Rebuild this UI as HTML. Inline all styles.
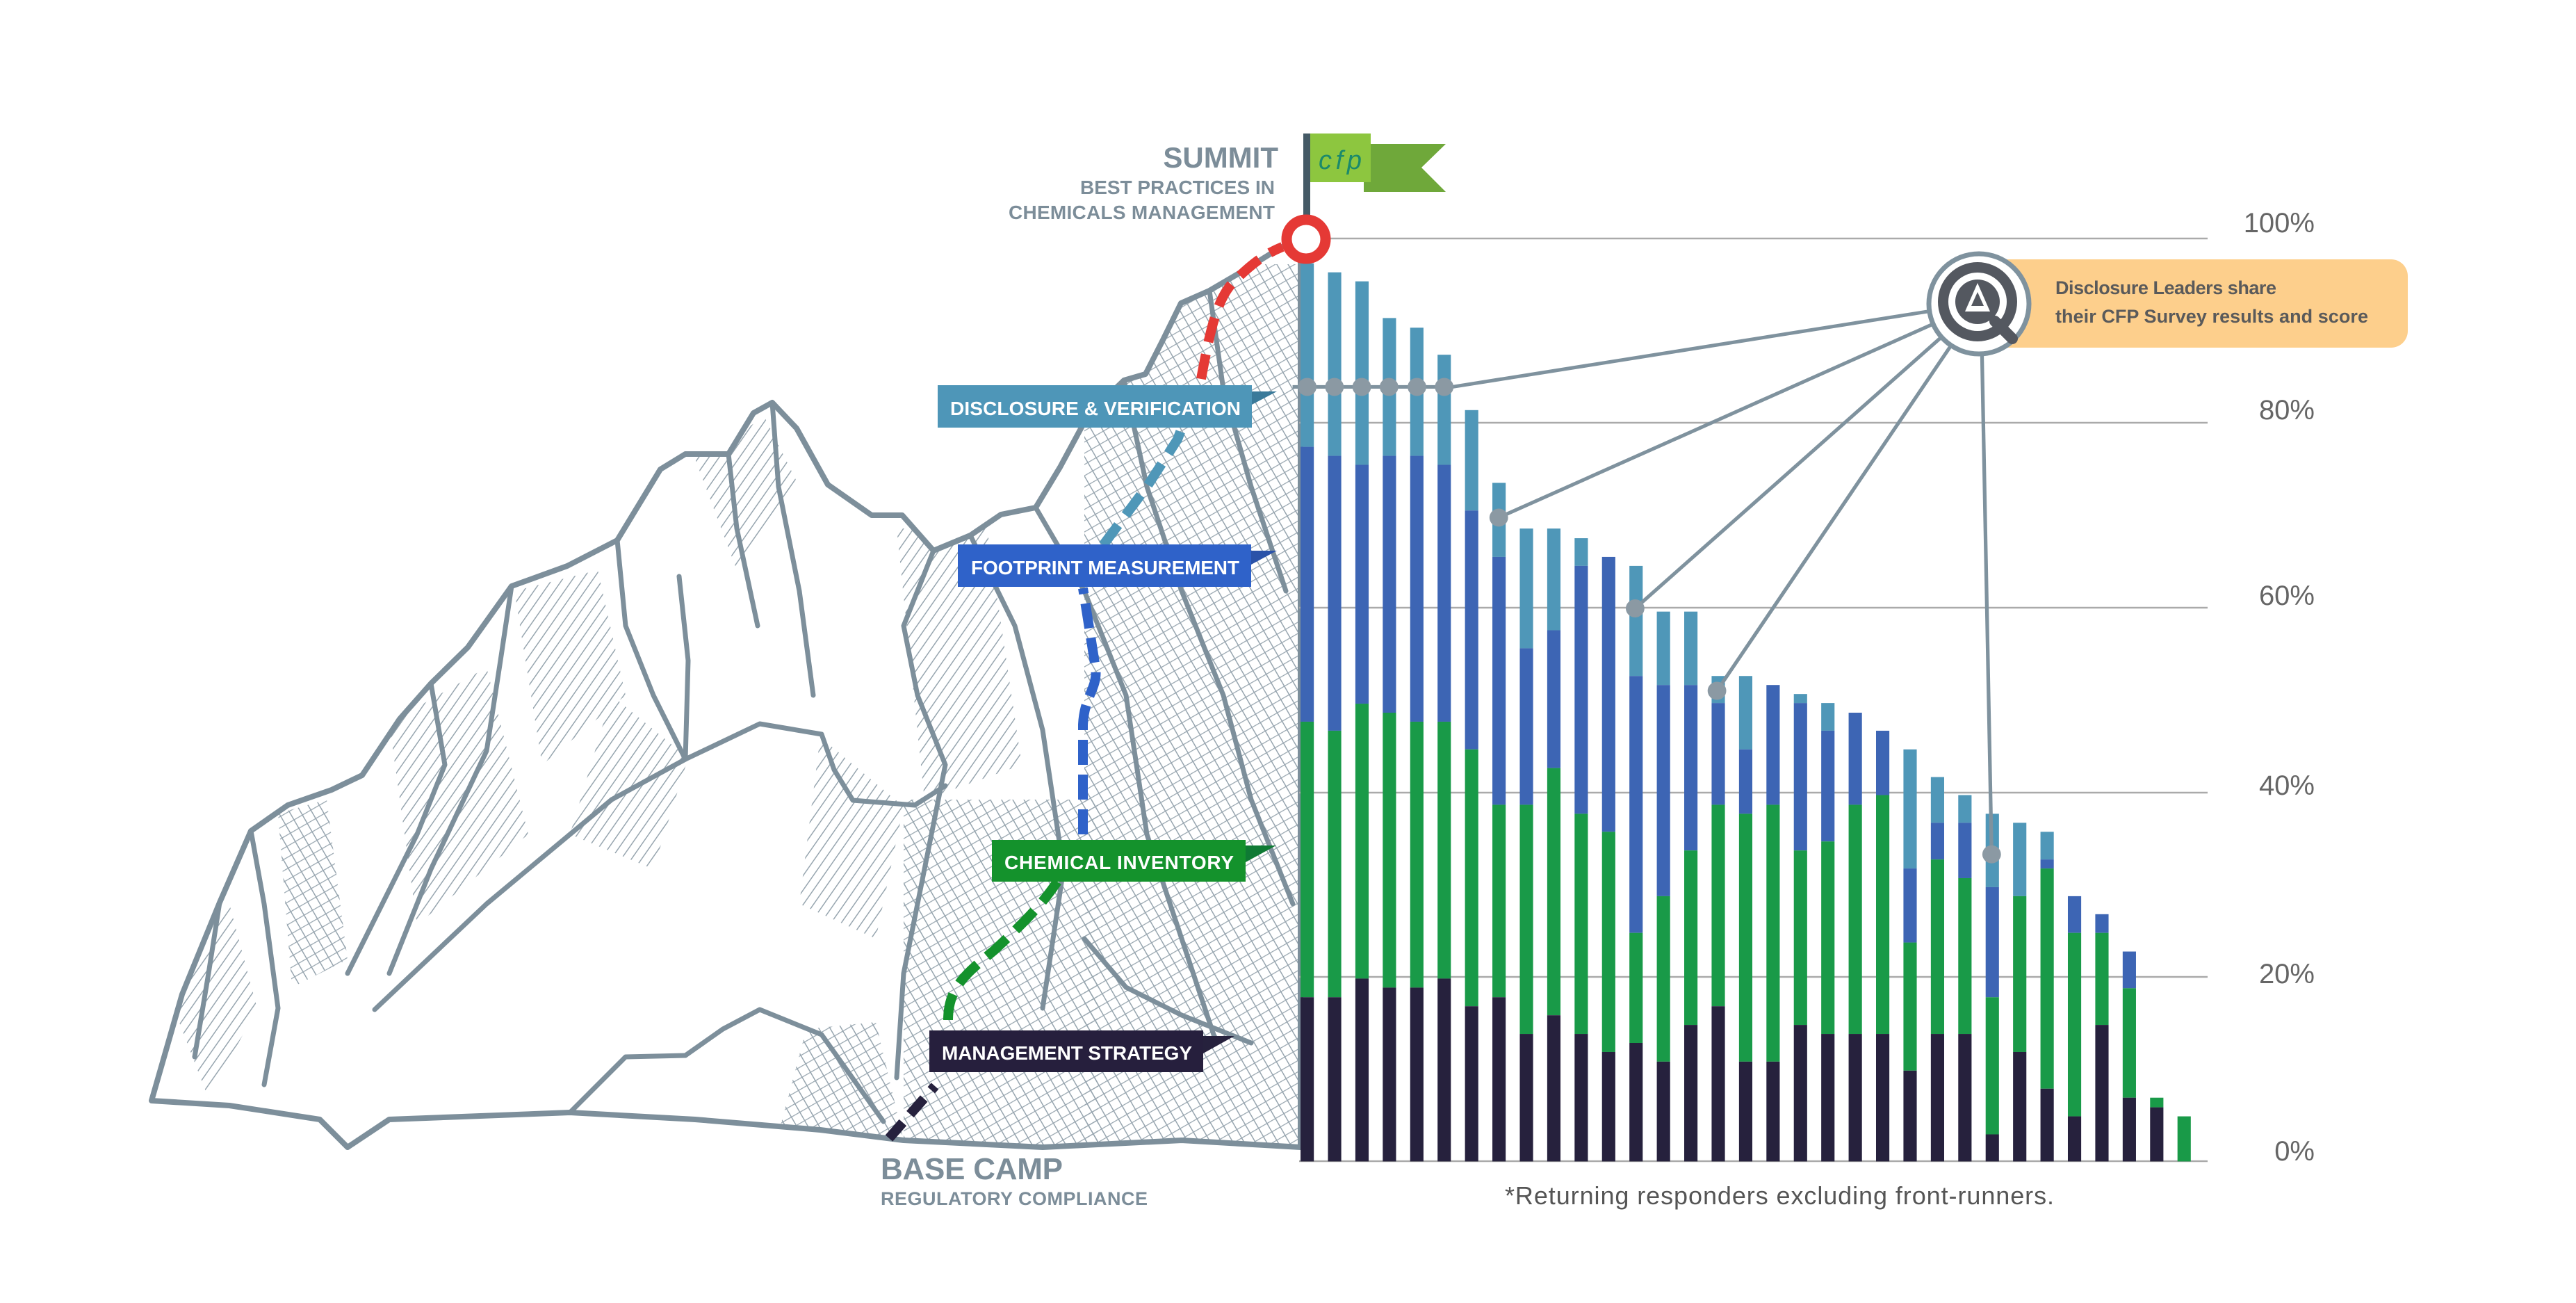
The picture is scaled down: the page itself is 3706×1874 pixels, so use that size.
<!DOCTYPE html>
<html><head><meta charset="utf-8"><style>
html,body{margin:0;padding:0;background:#fff;}
svg{display:block;}
text{font-family:"Liberation Sans",sans-serif;}
</style></head><body>
<svg width="3706" height="1874" viewBox="0 0 3706 1874" xmlns="http://www.w3.org/2000/svg">
<defs>
<pattern id="h1" width="12" height="12" patternUnits="userSpaceOnUse" patternTransform="rotate(35)">
<line x1="0" y1="0" x2="0" y2="12" stroke="#7d8f9b" stroke-width="3"/></pattern>
<pattern id="h2" width="14" height="14" patternUnits="userSpaceOnUse" patternTransform="rotate(-30)">
<line x1="0" y1="0" x2="0" y2="14" stroke="#7d8f9b" stroke-width="3"/><line x1="0" y1="0" x2="14" y2="0" stroke="#7d8f9b" stroke-width="2.5"/></pattern>
<clipPath id="mc"><path d="M218 1583 L262 1430 L316 1298 L361 1195 L414 1158 L477 1136 L521 1115 L575 1034 L620 983 L673 931 L736 843 L816 814 L888 777 L950 675 L986 653 L1048 653 L1084 594 L1111 579 L1146 616 L1191 697 L1254 741 L1298 741 L1343 792 L1396 770 L1440 740 L1490 730 L1525 672 L1566 596 L1617 547 L1648 538 L1673 489 L1699 436 L1740 418 L1786 391 L1844 355 L1871 350 L1871 1650 L1700 1640 L1500 1650 L1300 1640 L1180 1625 L1000 1610 L820 1600 L560 1610 L500 1650 L460 1610 L330 1590 Z"/></clipPath>
</defs>

<g>
<path d="M218 1583 L262 1430 L316 1298 L361 1195 L414 1158 L477 1136 L521 1115 L575 1034 L620 983 L673 931 L736 843 L816 814 L888 777 L950 675 L986 653 L1048 653 L1084 594 L1111 579 L1146 616 L1191 697 L1254 741 L1298 741 L1343 792 L1396 770 L1440 740 L1490 730 L1525 672 L1566 596 L1617 547 L1648 538 L1673 489 L1699 436 L1740 418 L1786 391 L1844 355 L1871 350 L1871 1650 L1700 1640 L1500 1650 L1300 1640 L1180 1625 L1000 1610 L820 1600 L560 1610 L500 1650 L460 1610 L330 1590 Z" fill="#fff" stroke="#7d8f9b" stroke-width="8" stroke-linejoin="round"/>
<g clip-path="url(#mc)" opacity="0.8">
<rect x="1560" y="380" width="320" height="1300" fill="url(#h2)"/>
<rect x="1300" y="1150" width="280" height="500" fill="url(#h2)"/>
<polygon points="1290,760 1420,760 1470,1100 1330,1150" fill="url(#h1)"/>
<polygon points="560,1040 700,960 760,1200 600,1330" fill="url(#h1)"/>
<polygon points="400,1170 470,1150 500,1380 420,1420" fill="url(#h2)"/>
<polygon points="1000,660 1100,600 1150,700 1060,820" fill="url(#h1)"/>
<polygon points="1160,1480 1260,1470 1300,1640 1120,1630" fill="url(#h2)"/>
<polygon points="740,850 860,820 900,1000 780,1100" fill="url(#h1)"/>
<polygon points="250,1450 330,1300 370,1450 300,1580" fill="url(#h1)"/>
<polygon points="880,1000 990,1090 940,1250 820,1200" fill="url(#h1)"/>
<polygon points="1180,1060 1300,1160 1260,1350 1150,1300" fill="url(#h1)"/>
</g>
<g fill="none" stroke="#7d8f9b" stroke-width="7" stroke-linejoin="round" stroke-linecap="round">
<polyline points="539,1452 700,1300 880,1150 986,1092 1093,1041 1182,1056 1200,1107 1227,1151 1316,1158 1360,1130"/>
<polyline points="977,829 990,950 986,1092"/>
<polyline points="986,1518 1040,1480 1093,1452 1182,1488 1271,1613"/>
<polyline points="888,777 900,900 940,1000 986,1092"/>
<polyline points="736,843 720,950 700,1080 620,1250 560,1400"/>
<polyline points="1111,579 1120,700 1150,850 1170,1000"/>
<polyline points="1343,792 1300,900 1320,1000 1360,1100 1330,1250 1300,1400 1290,1550"/>
<polyline points="1396,770 1460,900 1500,1050 1530,1250 1500,1450"/>
<polyline points="1490,730 1560,850 1620,1000 1650,1200 1700,1350 1750,1500"/>
<polyline points="1617,547 1650,700 1700,850 1760,1000 1800,1150 1860,1300"/>
<polyline points="1740,418 1760,560 1800,700 1850,850"/>
<polyline points="361,1195 380,1300 400,1450 380,1560"/>
<polyline points="316,1298 300,1400 280,1520"/>
<polyline points="620,983 640,1100 600,1200 550,1300 500,1400"/>
<polyline points="1048,653 1060,760 1090,900"/>
<polyline points="1560,1350 1620,1420 1700,1460 1800,1500"/>
<polyline points="820,1600 900,1520 986,1518"/>
</g>
</g>

<g stroke="#aaaaaa" stroke-width="2.5">
<line x1="1869" y1="343" x2="3176" y2="343"/>
<line x1="1869" y1="608" x2="3176" y2="608"/>
<line x1="1869" y1="874" x2="3176" y2="874"/>
<line x1="1869" y1="1140" x2="3176" y2="1140"/>
<line x1="1869" y1="1405" x2="3176" y2="1405"/>
<line x1="1869" y1="1670" x2="3176" y2="1670"/>
</g>
<g font-size="40" fill="#666" text-anchor="end">
<text x="3330" y="334">100%</text>
<text x="3330" y="603">80%</text>
<text x="3330" y="870">60%</text>
<text x="3330" y="1143">40%</text>
<text x="3330" y="1414">20%</text>
<text x="3330" y="1669">0%</text>
</g>

<g transform="translate(1850 300) scale(0.95694 0.92593)">
<g fill="#4f97b8">
<rect x="22" y="85" width="20" height="285"/><rect x="63.2" y="99" width="20" height="285"/><rect x="104.4" y="113" width="20" height="285"/><rect x="145.6" y="170" width="20" height="214"/><rect x="186.8" y="185" width="20" height="199"/><rect x="228" y="227" width="20" height="171"/><rect x="269.2" y="313" width="20" height="156"/><rect x="310.4" y="426" width="20" height="115"/><rect x="351.6" y="497" width="20" height="186"/><rect x="392.8" y="497" width="20" height="158"/><rect x="434" y="512" width="20" height="43"/><rect x="516.4" y="555" width="20" height="171"/><rect x="557.6" y="626" width="20" height="114"/><rect x="598.8" y="626" width="20" height="114"/><rect x="640" y="726" width="20" height="42"/><rect x="681.2" y="726" width="20" height="114"/><rect x="763.6" y="754" width="20" height="14"/><rect x="804.8" y="768" width="20" height="43"/><rect x="928.4" y="840" width="20" height="185"/><rect x="969.6" y="883" width="20" height="71"/><rect x="1010.8" y="911" width="20" height="43"/><rect x="1052" y="940" width="20" height="114"/><rect x="1093.2" y="954" width="20" height="114"/><rect x="1134.4" y="968" width="20" height="43"/>
</g>
<g fill="#3d65b4">
<rect x="22" y="370" width="20" height="427"/><rect x="63.2" y="384" width="20" height="427"/><rect x="104.4" y="398" width="20" height="371"/><rect x="145.6" y="384" width="20" height="399"/><rect x="186.8" y="384" width="20" height="413"/><rect x="228" y="398" width="20" height="399"/><rect x="269.2" y="469" width="20" height="371"/><rect x="310.4" y="541" width="20" height="385"/><rect x="351.6" y="683" width="20" height="243"/><rect x="392.8" y="655" width="20" height="214"/><rect x="434" y="555" width="20" height="385"/><rect x="475.2" y="541" width="20" height="427"/><rect x="516.4" y="726" width="20" height="399"/><rect x="557.6" y="740" width="20" height="328"/><rect x="598.8" y="740" width="20" height="257"/><rect x="640" y="768" width="20" height="158"/><rect x="681.2" y="840" width="20" height="100"/><rect x="722.4" y="740" width="20" height="186"/><rect x="763.6" y="768" width="20" height="229"/><rect x="804.8" y="811" width="20" height="172"/><rect x="846" y="783" width="20" height="143"/><rect x="887.2" y="811" width="20" height="100"/><rect x="928.4" y="1025" width="20" height="115"/><rect x="969.6" y="954" width="20" height="57"/><rect x="1010.8" y="954" width="20" height="86"/><rect x="1052" y="1054" width="20" height="171"/><rect x="1134.4" y="1011" width="20" height="14"/><rect x="1175.6" y="1068" width="20" height="57"/><rect x="1216.8" y="1096" width="20" height="29"/><rect x="1258" y="1154" width="20" height="57"/>
</g>
<g fill="#199a48">
<rect x="22" y="797" width="20" height="428"/><rect x="63.2" y="811" width="20" height="414"/><rect x="104.4" y="769" width="20" height="427"/><rect x="145.6" y="783" width="20" height="427"/><rect x="186.8" y="797" width="20" height="413"/><rect x="228" y="797" width="20" height="399"/><rect x="269.2" y="840" width="20" height="399"/><rect x="310.4" y="926" width="20" height="299"/><rect x="351.6" y="926" width="20" height="356"/><rect x="392.8" y="869" width="20" height="384"/><rect x="434" y="940" width="20" height="342"/><rect x="475.2" y="968" width="20" height="342"/><rect x="516.4" y="1125" width="20" height="171"/><rect x="557.6" y="1068" width="20" height="257"/><rect x="598.8" y="997" width="20" height="271"/><rect x="640" y="926" width="20" height="313"/><rect x="681.2" y="940" width="20" height="385"/><rect x="722.4" y="926" width="20" height="399"/><rect x="763.6" y="997" width="20" height="271"/><rect x="804.8" y="983" width="20" height="299"/><rect x="846" y="926" width="20" height="356"/><rect x="887.2" y="911" width="20" height="371"/><rect x="928.4" y="1140" width="20" height="199"/><rect x="969.6" y="1011" width="20" height="271"/><rect x="1010.8" y="1040" width="20" height="242"/><rect x="1052" y="1225" width="20" height="213"/><rect x="1093.2" y="1068" width="20" height="242"/><rect x="1134.4" y="1025" width="20" height="342"/><rect x="1175.6" y="1125" width="20" height="285"/><rect x="1216.8" y="1125" width="20" height="143"/><rect x="1258" y="1211" width="20" height="170"/><rect x="1299.2" y="1381" width="20" height="15"/><rect x="1340.4" y="1410" width="20" height="70"/>
</g>
<g fill="#26213d">
<rect x="22" y="1225" width="20" height="255"/><rect x="63.2" y="1225" width="20" height="255"/><rect x="104.4" y="1196" width="20" height="284"/><rect x="145.6" y="1210" width="20" height="270"/><rect x="186.8" y="1210" width="20" height="270"/><rect x="228" y="1196" width="20" height="284"/><rect x="269.2" y="1239" width="20" height="241"/><rect x="310.4" y="1225" width="20" height="255"/><rect x="351.6" y="1282" width="20" height="198"/><rect x="392.8" y="1253" width="20" height="227"/><rect x="434" y="1282" width="20" height="198"/><rect x="475.2" y="1310" width="20" height="170"/><rect x="516.4" y="1296" width="20" height="184"/><rect x="557.6" y="1325" width="20" height="155"/><rect x="598.8" y="1268" width="20" height="212"/><rect x="640" y="1239" width="20" height="241"/><rect x="681.2" y="1325" width="20" height="155"/><rect x="722.4" y="1325" width="20" height="155"/><rect x="763.6" y="1268" width="20" height="212"/><rect x="804.8" y="1282" width="20" height="198"/><rect x="846" y="1282" width="20" height="198"/><rect x="887.2" y="1282" width="20" height="198"/><rect x="928.4" y="1339" width="20" height="141"/><rect x="969.6" y="1282" width="20" height="198"/><rect x="1010.8" y="1282" width="20" height="198"/><rect x="1052" y="1438" width="20" height="42"/><rect x="1093.2" y="1310" width="20" height="170"/><rect x="1134.4" y="1367" width="20" height="113"/><rect x="1175.6" y="1410" width="20" height="70"/><rect x="1216.8" y="1268" width="20" height="212"/><rect x="1258" y="1381" width="20" height="99"/><rect x="1299.2" y="1396" width="20" height="84"/>
</g>
<g stroke="#7f929e" stroke-width="5.5" fill="none">
<polyline points="10,277 250,277 1043,147"/>
<line x1="320" y1="480" x2="1043" y2="147"/>
<line x1="525" y1="621" x2="1043" y2="147"/>
<line x1="648" y1="749" x2="1043" y2="147"/>
<polyline points="1061,1003 1045,147"/>
</g>
<g fill="#8b99a3">
<ellipse cx="32" cy="277" rx="14" ry="14"/><ellipse cx="73" cy="277" rx="14" ry="14"/><ellipse cx="114" cy="277" rx="14" ry="14"/><ellipse cx="155" cy="277" rx="14" ry="14"/><ellipse cx="197" cy="277" rx="14" ry="14"/><ellipse cx="238" cy="277" rx="14" ry="14"/>
<ellipse cx="320" cy="480" rx="14" ry="14"/><ellipse cx="525" cy="621" rx="14" ry="14"/><ellipse cx="648" cy="749" rx="14" ry="14"/><ellipse cx="1061" cy="1003" rx="14" ry="14"/>
</g>
</g>

<rect x="2840" y="373" width="624" height="127" rx="24" fill="#fdcf8c"/>
<text x="2957" y="423" font-size="27" font-weight="bold" fill="#5a5a5a" textLength="318">Disclosure Leaders share</text>
<text x="2957" y="464" font-size="27" font-weight="bold" fill="#5a5a5a" textLength="450">their CFP Survey results and score</text>
<circle cx="2847" cy="437" r="72" fill="#fff" stroke="#7f929e" stroke-width="7"/>
<circle cx="2845" cy="434" r="57" fill="#545860"/>
<circle cx="2845" cy="434" r="42" fill="#fff"/>
<circle cx="2845" cy="434" r="32" fill="#545860"/>
<polygon points="2845,407 2827,448 2863,448" fill="#fff"/>
<polygon points="2845,420 2836,440 2854,440" fill="#545860"/>
<line x1="2870" y1="462" x2="2895" y2="487" stroke="#545860" stroke-width="16" stroke-linecap="round"/>

<text x="2165" y="1732" font-size="36" fill="#555" textLength="790">*Returning responders excluding front-runners.</text>

<g fill="none" stroke-width="14">
<path d="M1279 1637 L1345 1562" stroke="#26213d" stroke-dasharray="30 16"/>
<path d="M1364 1467 C1364 1420 1390 1400 1430 1367 C1470 1330 1500 1300 1521 1268" stroke="#14922c" stroke-dasharray="38 18"/>
<path d="M1558 1200 L1558 1042 C1560 1000 1580 990 1576 960 L1558 846" stroke="#2f62c9" stroke-dasharray="36 14"/>
<path d="M1587 784 L1650 700 L1694 632 L1709 592" stroke="#4f97b8" stroke-dasharray="36 18"/>
<path d="M1728 545 C1740 480 1750 430 1775 405 C1800 380 1820 365 1845 355" stroke="#e53935" stroke-dasharray="36 18"/>
</g>

<rect x="1875" y="192" width="10" height="150" fill="#455a66"/>
<polygon points="1962,207 2080,207 2045,241 2080,276 1962,276" fill="#6fa83a"/>
<rect x="1885" y="192" width="87" height="70" fill="#8dc63f"/>
<text x="1928" y="243" font-size="38" font-style="italic" fill="#1b8a6b" text-anchor="middle" textLength="62">cfp</text>
<circle cx="1879" cy="344" r="28" fill="#fff" stroke="#e53935" stroke-width="15"/>

<g fill="#7c8d99" font-weight="bold" text-anchor="end">
<text x="1839" y="241" font-size="42">SUMMIT</text>
<text x="1834" y="279" font-size="28">BEST PRACTICES IN</text>
<text x="1834" y="315" font-size="28" textLength="383">CHEMICALS MANAGEMENT</text>
</g>

<polygon points="1795,563 1837,563 1801,582" fill="#3a7a9a"/>
<rect x="1349" y="554" width="452" height="61" fill="#4e96b8"/>
<text x="1367" y="597" font-size="28" font-weight="bold" fill="#fff" textLength="418">DISCLOSURE &amp; VERIFICATION</text>

<polygon points="1795,792 1837,792 1800,812" fill="#2a52a8"/>
<rect x="1378" y="783" width="422" height="61" fill="#2f62c9"/>
<text x="1397" y="826" font-size="28" font-weight="bold" fill="#fff" textLength="386">FOOTPRINT MEASUREMENT</text>

<polygon points="1787,1216 1836,1216 1792,1240" fill="#0f7a34"/>
<rect x="1427" y="1208" width="365" height="60" fill="#14922c"/>
<text x="1445" y="1250" font-size="28" font-weight="bold" fill="#fff" textLength="330">CHEMICAL INVENTORY</text>

<polygon points="1726,1490 1776,1490 1731,1515" fill="#26213d"/>
<rect x="1337" y="1482" width="394" height="60" fill="#261f3d"/>
<text x="1355" y="1524" font-size="28" font-weight="bold" fill="#fff" textLength="360">MANAGEMENT STRATEGY</text>

<text x="1267" y="1696" font-size="44" font-weight="bold" fill="#7c8d99" textLength="262">BASE CAMP</text>
<text x="1267" y="1733" font-size="27" font-weight="bold" fill="#7c8d99" textLength="384">REGULATORY COMPLIANCE</text>
</svg>
</body></html>
